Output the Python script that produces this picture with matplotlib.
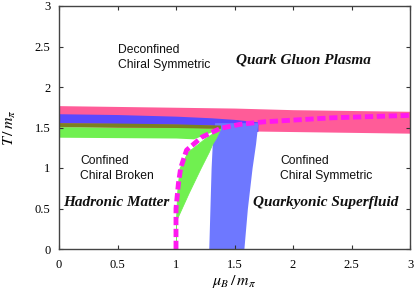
import matplotlib
matplotlib.use("Agg")
import matplotlib.pyplot as plt
import numpy as np

# --- data ---
# pink band (behind everything)
pink_x = [0.0, 0.5, 1.0, 1.5, 2.0, 2.5, 3.0]
pink_top = [1.77, 1.76, 1.75, 1.74, 1.72, 1.71, 1.70]
pink_bot = [1.52, 1.50, 1.48, 1.46, 1.45, 1.44, 1.43]

# blue horizontal band
blue_x = [0.0, 0.5, 1.0, 1.3, 1.5, 1.7]
blue_top = [1.67, 1.66, 1.64, 1.62, 1.60, 1.57]
blue_bot = [1.56, 1.55, 1.54, 1.53, 1.50, 1.45]

# blue vertical band (as a function of T)
bluev_T = [0.0, 0.5, 1.0, 1.3, 1.56]
bluev_left = [1.28, 1.29, 1.30, 1.31, 1.33]
bluev_right = [1.58, 1.61, 1.65, 1.68, 1.70]

# olive thin band
olive_x = [0.0, 0.5, 1.0, 1.38]
olive_top = [1.56, 1.555, 1.545, 1.53]
olive_bot = [1.51, 1.505, 1.50, 1.49]

# green horizontal band
green_x = [0.0, 0.5, 1.0, 1.15, 1.38]
green_top = [1.51, 1.505, 1.50, 1.50, 1.49]
green_bot = [1.38, 1.375, 1.37, 1.36, 1.49]

# green wedge (as a function of T)
greenw_T = [0.0, 0.35, 0.7, 1.0, 1.2, 1.3, 1.37, 1.49]
greenw_left = [1.0, 1.0, 1.01, 1.03, 1.10, 1.19, 1.25, 1.38]
greenw_right = [1.0, 1.0, 1.11, 1.21, 1.28, 1.31, 1.34, 1.38]

# magenta dashed line
mag_x = [1.0, 1.0, 1.02, 1.04, 1.09, 1.22, 1.38, 1.55, 1.75, 2.34, 3.0]
mag_T = [0.0, 0.5, 0.8, 1.0, 1.22, 1.38, 1.49, 1.54, 1.57, 1.62, 1.65]

xticks = [0, 0.5, 1, 1.5, 2, 2.5, 3]
yticks = [0, 0.5, 1, 1.5, 2, 2.5, 3]

plt.rcParams["mathtext.fontset"] = "stix"

fig = plt.figure(figsize=(4.15, 2.91), dpi=100)
ax = fig.add_axes([59 / 415, 42 / 291, 351 / 415, 243 / 291])

ax.fill_between(pink_x, pink_bot, pink_top, color="#ff5c98", lw=0)
ax.fill_between(blue_x, blue_bot, blue_top, color="#5a48ff", lw=0)
ax.fill_betweenx(bluev_T, bluev_left, bluev_right, color="#6e78ff", lw=0)
ax.fill_between(green_x, green_bot, green_top, color="#70f050", lw=0)
ax.fill_betweenx(greenw_T, greenw_left, greenw_right, color="#70f050", lw=0.6,
                 edgecolor="#70f050")
ax.fill_between(olive_x, olive_bot, olive_top, color="#7b8020", lw=0)
ax.plot(mag_x, mag_T, color="#ff18f0", lw=3.5, dashes=(1.7, 0.75),
        solid_capstyle="butt", dash_capstyle="butt")

ax.set_xlim(0, 3)
ax.set_ylim(0, 3)
ax.set_xticks(xticks)
ax.set_yticks(yticks)
ax.set_xticklabels([f"{t:g}" for t in xticks], family="Liberation Serif", fontsize=9)
ax.set_yticklabels([f"{t:g}" for t in yticks], family="Liberation Serif", fontsize=9)
ax.tick_params(direction="in", length=3, width=0.8, top=True, right=True,
               color="#333333")
ax.tick_params(axis="x", pad=7)
ax.tick_params(axis="y", pad=6)
for sp in ax.spines.values():
    sp.set_color("#444444")
    sp.set_linewidth(1.0)

# axis labels placed in figure pixels to match the reference
fig.text(234 / 415, 1 - 282 / 291, r"$\mu_B\,/\,m_\pi$", fontsize=11.5,
         ha="center", va="center")
fig.text(10 / 415, 1 - 128 / 291, r"$T\,/\,m_\pi$", fontsize=11.5,
         ha="center", va="center", rotation=90)

sans = dict(family="Liberation Sans", fontsize=8.7, color="#111111",
            ha="left", va="center", linespacing=1.25)
ax.text(0.5, 2.365, "Deconfined\nChiral Symmetric", **sans)
ax.text(0.18, 0.995, "Confined\nChiral Broken", **sans)
ax.text(1.89, 0.995, "Confined\nChiral Symmetric", **sans)

bold = dict(family="Liberation Serif", fontsize=11, weight="bold", style="italic",
            ha="center", va="center", color="#111111")
ax.text(2.09, 2.33, "Quark Gluon Plasma", **bold)
ax.text(0.49, 0.57, "Hadronic Matter", **bold)
ax.text(2.28, 0.57, "Quarkyonic Superfluid", **bold)

fig.savefig("out.png", dpi=100)
